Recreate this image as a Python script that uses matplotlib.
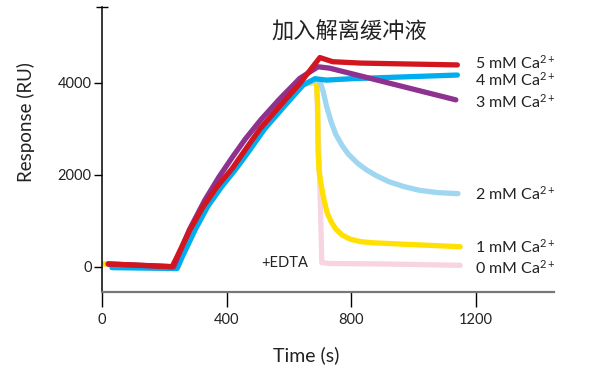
import matplotlib.pyplot as plt

# time (s) / response (RU)
t_5mM = [20, 225, 241, 282, 324, 369, 417, 455, 507, 571, 635, 699, 740, 830, 1140]
r_5mM = [60, 0, 220, 800, 1300, 1740, 2130, 2500, 3000, 3500, 3990, 4550, 4460, 4430, 4390]

t_4mM = [32, 241, 260, 300, 340, 385, 430, 470, 522, 586, 645, 683, 720, 800, 1140]
r_4mM = [-20, -40, 250, 820, 1320, 1750, 2130, 2500, 3000, 3500, 3950, 4090, 4060, 4090, 4170]

t_3mM = [20, 230, 280, 330, 375, 420, 460, 510, 570, 635, 693, 730, 1135]
r_3mM = [60, 0, 800, 1450, 1950, 2400, 2780, 3200, 3650, 4100, 4350, 4320, 3630]

t_2mM = [25, 235, 255, 292, 333, 378, 424, 463, 515, 578, 640, 690, 700, 710, 720, 735,
         750, 770, 790, 820, 850, 880, 920, 970, 1020, 1080, 1142]
r_2mM = [40, -20, 250, 800, 1300, 1750, 2130, 2500, 3000, 3500, 3970, 4070, 4020, 3800,
         3500, 3150, 2880, 2640, 2450, 2250, 2100, 1980, 1850, 1740, 1660, 1610, 1590]

t_1mM = [0, 230, 255, 292, 333, 378, 424, 463, 515, 578, 640, 688, 692, 693, 696, 703,
         712, 722, 735, 750, 770, 796, 830, 870, 1000, 1149]
r_1mM = [65, -10, 250, 800, 1300, 1750, 2130, 2500, 3000, 3500, 3970, 4050, 3500, 2540,
         2110, 1780, 1460, 1180, 980, 820, 690, 600, 545, 520, 480, 435]

t_0mM = [10, 230, 255, 292, 333, 378, 424, 463, 515, 578, 640, 688, 698, 702, 705, 730, 900, 1149]
r_0mM = [50, -10, 250, 800, 1300, 1750, 2130, 2500, 3000, 3500, 3970, 4000, 2000, 1000,
         90, 70, 60, 30]

labels = ["0 mM Ca$^{2+}$", "1 mM Ca$^{2+}$", "2 mM Ca$^{2+}$",
          "3 mM Ca$^{2+}$", "4 mM Ca$^{2+}$", "5 mM Ca$^{2+}$"]
label_y = [-20, 430, 1590, 3590, 4060, 4430]
colors = ["#f8d3e2", "#ffe000", "#9fd6f2", "#8e318f", "#00aeef", "#d2161f"]

xticks = [0, 400, 800, 1200]
yticks = [0, 2000, 4000]

plt.rcParams['font.family'] = ['Lato', 'DejaVu Sans']
plt.rcParams['mathtext.default'] = 'regular'

fig = plt.figure(figsize=(6.06, 3.77), dpi=100)
ax = fig.add_axes([0.1683, 0.2255, 0.9142 - 0.1683, 0.9814 - 0.2255])

series = [(t_0mM, r_0mM), (t_1mM, r_1mM), (t_2mM, r_2mM),
          (t_4mM, r_4mM), (t_3mM, r_3mM), (t_5mM, r_5mM)]
order_colors = [colors[0], colors[1], colors[2], colors[4], colors[3], colors[5]]
for (t, r), c in zip(series, order_colors):
    ax.plot(t, r, color=c, lw=3.8, solid_capstyle='round', solid_joinstyle='round')

for lab, y in zip(labels, label_y):
    ax.text(1195, y, lab, fontsize=11.5, color='#222222', va='center', ha='left')

ax.text(792, 5130, "加入解离缓冲液", fontsize=16, color='#222222',
        ha='center', va='center', family=['Noto Sans CJK SC', 'DejaVu Sans'])
ax.text(660, 80, "+EDTA", fontsize=10.5, color='#222222', ha='right', va='center')

ax.set_xlim(0, 1450)
ax.set_ylim(-550, 5650)
ax.set_xticks(xticks)
ax.set_yticks(yticks)
ax.set_yticks([5650], minor=True)

for s in ['top', 'right']:
    ax.spines[s].set_visible(False)
ax.spines['left'].set_color('black')
ax.spines['left'].set_linewidth(1.1)
ax.spines['bottom'].set_color('#777777')
ax.spines['bottom'].set_linewidth(1.6)

ax.tick_params(axis='x', length=11, width=1, color='black', pad=4,
               labelsize=10.5, labelcolor='#222222')
ax.tick_params(axis='y', which='major', length=5.5, width=1, color='black', pad=2,
               labelsize=10.5, labelcolor='#222222')
ax.tick_params(axis='y', which='minor', length=9, width=1, color='black',
               direction='inout')

ax.set_xlabel("Time (s)", fontsize=14, color='#222222', va='center', ha='center')
ax.xaxis.set_label_coords(0.451, -0.221)
ax.set_ylabel("Response (RU)", fontsize=13.5, color='#222222', va='center', ha='center')
ax.yaxis.set_label_coords(-0.168, 0.596)

fig.savefig("out.png", dpi=100)
